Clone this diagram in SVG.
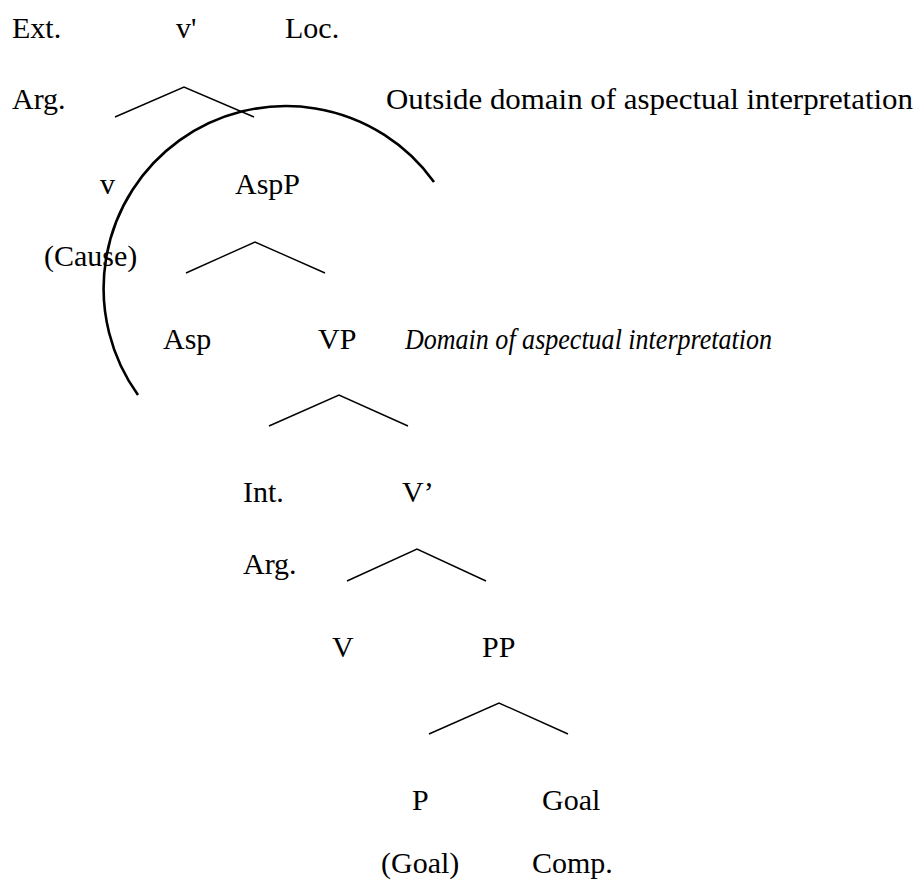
<svg xmlns="http://www.w3.org/2000/svg" width="921" height="890" viewBox="0 0 921 890">
<style>
text { font-family: "Liberation Serif", "Times New Roman", serif; font-size: 30px; fill: #000; }
.it { font-style: italic; }
.edge { stroke: #000; stroke-width: 1.4; fill: none; }
.arc { stroke: #000; stroke-width: 2.6; fill: none; }
</style>
<rect width="921" height="890" fill="#fff"/>
<g id="connectors">
  <polyline class="edge" points="115,117 184,87 254,117"/>
  <polyline class="edge" points="186,273 255,242 325,273"/>
  <polyline class="edge" points="269,426 339,395 408,426"/>
  <polyline class="edge" points="347,581 417,549 486,581"/>
  <polyline class="edge" points="429,734 499,703 568,734"/>
  <path class="arc" d="M 138,395 A 182 182 0 1 1 434,182"/>
</g>
<g id="ext-arg"><text x="12" y="38">Ext.</text><text x="12" y="109">Arg.</text></g>
<g id="vbar"><text x="176" y="38">v'</text></g>
<g id="loc"><text x="285" y="38">Loc.</text></g>
<g id="outside-label"><text x="386" y="109" textLength="527" lengthAdjust="spacingAndGlyphs">Outside domain of aspectual interpretation</text></g>
<g id="v"><text x="100" y="194">v</text><text x="44" y="266">(Cause)</text></g>
<g id="aspp"><text x="235" y="194">AspP</text></g>
<g id="asp"><text x="163" y="349">Asp</text></g>
<g id="vp"><text x="318" y="349">VP</text></g>
<g id="domain-label"><text class="it" x="405" y="349" textLength="367" lengthAdjust="spacingAndGlyphs">Domain of aspectual interpretation</text></g>
<g id="int-arg"><text x="243" y="502">Int.</text><text x="243" y="574">Arg.</text></g>
<g id="vprime"><text x="402" y="502">V’</text></g>
<g id="V"><text x="332" y="657">V</text></g>
<g id="pp"><text x="482" y="657">PP</text></g>
<g id="p"><text x="412" y="810">P</text><text x="381" y="873">(Goal)</text></g>
<g id="goal"><text x="542" y="810">Goal</text><text x="532" y="873">Comp.</text></g>
</svg>
